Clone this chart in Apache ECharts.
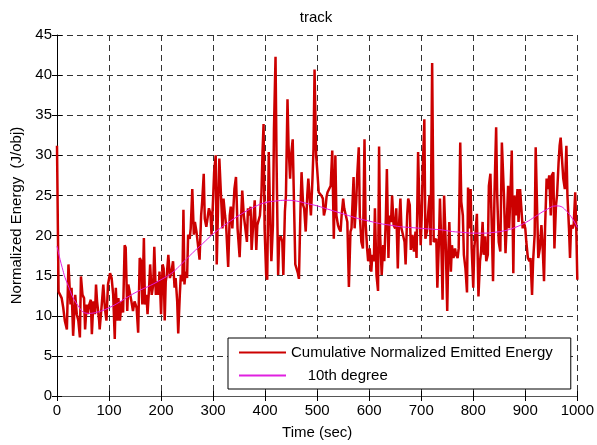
<!DOCTYPE html>
<html>
<head>
<meta charset="utf-8">
<script src="https://cdn.jsdelivr.net/npm/echarts@6/dist/echarts.min.js"></script>
<style>
html,body{margin:0;padding:0;background:#fff;}
#chart{width:597px;height:445px;}
</style>
</head>
<body>
<div id="chart"></div>
<script>
// ---- data ----
var titleText = 'track';
var xName = 'Time (sec)';
var yName = 'Normalized Energy  (J/obj)';
var seriesNames = ['Cumulative Normalized Emitted Energy', '10th degree'];

var time = [
  0,3,6,9,12,15,19,22,26,28,
  31,35,38,41,44,46,49,52,54,57,
  59,62,65,67,70,73,75,77,81,82,
  86,89,92,95,98,102,105,108,111,113,
  116,118,121,124,127,130,132,135,137,140,
  143,146,149,153,156,159,162,164,167,169,
  172,174,177,179,182,185,187,190,192,195,
  197,200,203,205,207,209,211,214,217,220,
  223,226,228,231,233,236,238,241,243,245,
  247,250,252,255,257,260,263,265,268,271,
  274,277,279,282,284,287,289,292,295,297,
  300,302,305,307,310,312,315,318,320,323,
  325,329,332,334,337,339,341,344,347,351,
  354,356,359,362,365,367,370,372,374,377,
  380,383,385,388,390,393,395,397,399,402,
  404,407,409,412,415,417,420,422,425,427,
  430,433,435,438,440,443,445,448,450,453,
  456,458,461,463,465,468,470,473,475,478,
  481,483,486,488,491,493,495,498,500,503,
  505,508,511,513,516,518,520,523,526,529,
  532,535,537,540,542,545,547,550,552,555,
  558,561,564,566,570,572,575,577,580,582,
  585,588,591,593,596,598,601,604,606,609,
  611,614,617,619,621,624,627,629,632,634,
  637,639,642,644,647,650,652,655,657,660,
  662,665,668,670,673,675,678,680,683,686,
  689,691,694,696,699,701,703,706,708,711,
  713,716,718,721,724,726,729,731,734,736,
  739,741,744,747,750,752,754,757,759,762,
  765,767,770,772,775,777,780,782,785,788,
  790,792,795,797,800,802,805,807,810,813,
  815,818,820,823,825,828,830,833,836,838,
  841,844,846,849,852,855,859,862,864,867,
  869,872,874,877,879,882,885,887,890,892,
  895,897,900,902,905,908,910,913,915,918,
  920,923,925,928,931,933,936,938,941,943,
  946,949,951,954,956,959,961,964,966,968,
  971,973,976,979,981,984,986,988,991,993,
  996,998,1000
];

var energy = [
  31.2,13.0,12.6,12.2,11.0,9.4,8.3,16.4,11.4,13.5,
  7.5,12.6,10.2,9.4,7.3,14.9,12.6,12.2,8.3,11.4,
  10.2,11.4,12.0,7.7,11.8,10.2,13.9,11.8,9.4,8.3,
  11.4,13.9,11.0,9.4,13.9,15.3,14.7,12.6,7.1,13.5,
  9.4,12.2,9.4,11.8,10.4,18.8,18.5,10.6,13.9,13.7,
  11.8,10.6,11.8,11.0,7.9,17.2,16.8,11.4,19.7,11.4,
  12.6,10.2,13.5,16.4,12.6,13.9,18.6,12.6,14.3,12.6,
  15.5,10.2,16.4,15.9,9.4,14.3,15.1,17.6,14.7,15.5,
  16.8,13.5,14.7,11.8,7.8,12.6,15.1,14.3,23.2,13.9,
  15.5,14.7,20.1,19.6,20.9,25.8,20.1,21.7,20.5,18.8,
  17.0,22.5,24.2,27.7,22.1,21.1,20.9,23.4,22.7,20.1,
  24.6,27.9,30.0,16.4,25.0,29.6,29.5,20.9,24.6,22.5,
  21.3,16.1,22.5,23.6,20.9,23.4,25.8,27.3,20.9,17.3,
  22.5,25.6,22.5,20.9,19.2,23.4,22.5,23.6,18.2,21.3,
  24.4,18.2,21.3,21.3,22.5,25.4,30.4,33.9,20.9,15.1,
  14.5,30.4,24.2,16.8,21.3,33.3,42.3,29.1,15.1,19.6,
  19.9,19.2,15.1,23.0,25.0,37.0,31.2,27.1,30.0,32.0,
  22.5,16.4,16.6,15.3,14.6,23.4,27.9,23.8,23.4,20.5,
  25.0,27.1,27.3,22.5,27.1,30.8,40.7,30.0,28.3,25.4,
  25.4,25.0,24.6,22.5,23.4,24.8,25.4,25.8,26.2,30.6,
  19.6,30.0,22.5,21.3,20.9,20.5,22.5,24.6,23.4,23.4,
  21.7,13.6,20.5,20.9,27.3,20.9,24.2,27.5,31.0,22.5,
  19.2,18.4,32.0,21.7,18.4,16.8,18.4,15.5,17.6,16.8,
  23.4,15.1,13.1,31.1,20.1,15.1,18.8,16.8,22.1,28.3,
  17.2,22.5,21.7,25.0,21.3,20.9,23.4,15.9,20.9,24.6,
  20.9,20.9,19.2,16.4,22.5,24.6,23.8,18.2,20.1,18.0,
  20.5,17.2,30.4,25.0,18.8,22.5,28.3,34.5,19.6,20.5,
  22.5,25.0,18.8,41.5,19.2,19.2,19.6,13.5,19.2,24.6,
  18.0,12.0,25.0,19.2,10.6,17.6,21.7,15.5,18.8,17.2,
  18.4,17.6,17.2,18.4,31.6,24.2,22.5,17.6,15.9,12.9,
  26.0,20.9,25.8,18.4,13.5,18.4,20.9,22.7,12.4,16.8,
  18.0,21.7,17.6,19.9,16.8,17.6,26.2,27.7,20.1,14.3,
  25.8,33.5,25.0,19.2,18.0,31.6,25.0,17.8,20.9,26.2,
  20.9,26.2,30.6,15.3,25.0,22.5,25.8,21.7,25.8,25.8,
  20.9,21.7,20.9,19.2,17.2,16.8,17.2,12.6,16.8,20.1,
  31.0,22.5,17.2,18.4,21.3,19.2,14.3,20.9,27.1,25.8,
  27.5,22.5,27.5,27.9,18.4,23.8,25.0,29.1,31.2,32.2,
  29.1,27.1,25.8,31.2,25.0,20.9,17.2,21.3,20.9,21.3,
  25.4,20.9,14.5
];

var fitTime = [0,10,20,40,60,80,100,120,140,160,180,200,220,240,260,280,300,320,340,360,380,400,
  420,440,460,480,500,520,540,560,580,600,620,640,660,680,700,720,740,760,780,800,
  820,840,860,880,900,920,940,960,980,1000];
var fitValue = [18.7,16.0,14.0,11.3,10.3,10.5,11.0,11.7,12.5,13.2,13.8,14.5,15.3,16.5,17.8,19.0,20.2,21.2,22.1,22.9,23.6,24.1,
  24.3,24.4,24.3,24.0,23.7,23.3,22.9,22.5,22.1,21.8,21.5,21.3,21.1,21.0,20.9,20.8,20.7,20.5,20.4,20.3,
  20.3,20.4,20.6,21.0,21.6,22.4,23.2,23.7,23.0,21.0];

var xTicks = {min: 0, max: 1000, interval: 100};
var yTicks = {min: 0, max: 45, interval: 5};

// ---- chart ----
var FONT = "'Liberation Sans', Arial, Helvetica, sans-serif";
var chart = echarts.init(document.getElementById('chart'), null, {renderer: 'canvas'});

var redData = time.map(function (t, i) { return [t, energy[i]]; });
var fitData = fitTime.map(function (t, i) { return [t, fitValue[i]]; });

var gridDash = {show: true, lineStyle: {color: '#333', width: 1, type: [6, 4]}};
var plain = function (v) { return String(v); };

var option = {
  animation: false,
  backgroundColor: '#fff',
  title: {
    text: titleText, left: 311, top: 5, textAlign: 'center',
    textStyle: {fontFamily: FONT, fontSize: 15, fontWeight: 'normal', color: '#000'}
  },
  grid: {left: 57, right: 18, top: 35, bottom: 46, containLabel: false},
  legend: {
    orient: 'vertical', left: 228, top: 338,
    padding: [7, 18, 6, 10], itemGap: 8, itemWidth: 47, itemHeight: 14,
    backgroundColor: '#fff', borderColor: '#000', borderWidth: 1,
    itemStyle: {color: 'rgba(0,0,0,0)', borderColor: 'rgba(0,0,0,0)', borderWidth: 0},
    textStyle: {fontFamily: FONT, fontSize: 15, color: '#000'},
    formatter: function (name) { return name === seriesNames[1] ? '    ' + name : name; },
    data: seriesNames
  },
  xAxis: [{
    type: 'value', min: xTicks.min, max: xTicks.max, interval: xTicks.interval,
    name: xName, nameLocation: 'middle', nameGap: 29,
    nameTextStyle: {fontFamily: FONT, fontSize: 15, color: '#000'},
    axisLine: {show: true, lineStyle: {color: '#555', width: 1}},
    axisTick: {show: true, inside: true, length: 5, lineStyle: {color: '#000'}},
    axisLabel: {fontFamily: FONT, fontSize: 15, color: '#000', margin: 7, formatter: plain},
    splitLine: gridDash
  }, {
    type: 'value', position: 'top', min: xTicks.min, max: xTicks.max, interval: xTicks.interval,
    axisLine: {show: false},
    axisTick: {show: true, inside: true, length: 5, lineStyle: {color: '#000'}},
    axisLabel: {show: false}, splitLine: {show: false}
  }],
  yAxis: [{
    type: 'value', min: yTicks.min, max: yTicks.max, interval: yTicks.interval,
    name: yName, nameLocation: 'middle', nameGap: 32,
    nameTextStyle: {fontFamily: FONT, fontSize: 15, color: '#000'},
    axisLine: {show: true, lineStyle: {color: '#000', width: 1}},
    axisTick: {show: true, inside: true, length: 5, lineStyle: {color: '#000'}},
    axisLabel: {fontFamily: FONT, fontSize: 15, color: '#000', margin: 5, formatter: plain},
    splitLine: gridDash
  }, {
    type: 'value', position: 'right', min: yTicks.min, max: yTicks.max, interval: yTicks.interval,
    axisLine: {show: false},
    axisTick: {show: true, inside: true, length: 5, lineStyle: {color: '#000'}},
    axisLabel: {show: false}, splitLine: {show: false}
  }],
  series: [{
    name: seriesNames[0], type: 'line', data: redData,
    xAxisIndex: 0, yAxisIndex: 0,
    symbol: 'none', showSymbol: false,
    lineStyle: {color: '#cc0000', width: 2.5},
    itemStyle: {color: '#cc0000'},
    z: 2
  }, {
    name: seriesNames[1], type: 'line', data: fitData,
    xAxisIndex: 0, yAxisIndex: 0,
    symbol: 'none', showSymbol: false, smooth: 0.5,
    lineStyle: {color: '#e020e0', width: 1},
    itemStyle: {color: '#e020e0'},
    z: 3
  }]
};
chart.setOption(option);
</script>
</body>
</html>
